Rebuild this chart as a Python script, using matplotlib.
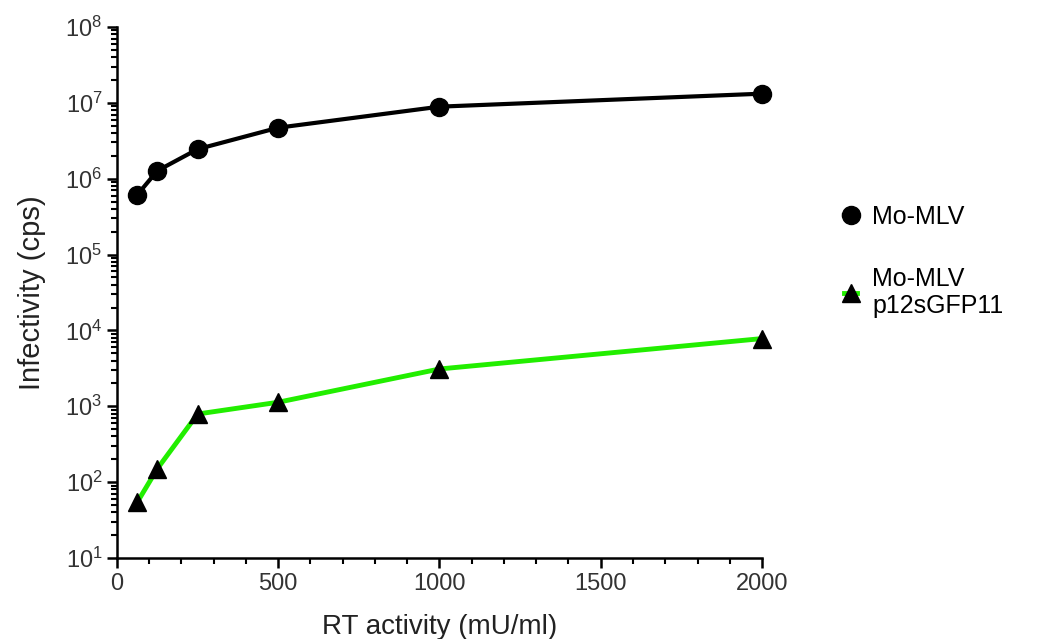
import numpy as np
import matplotlib.pyplot as plt
from matplotlib.ticker import LogLocator, MultipleLocator, NullFormatter, FuncFormatter

plt.rcParams['font.family'] = ['Liberation Sans', 'DejaVu Sans']
plt.rcParams['mathtext.fontset'] = 'custom'
plt.rcParams['mathtext.rm'] = 'Liberation Sans'
plt.rcParams['mathtext.it'] = 'Liberation Sans'

# RT activity (mU/ml)
rt = [62.5, 125, 250, 500, 1000, 2000]
wt = [6.1e5, 1.27e6, 2.45e6, 4.7e6, 8.9e6, 1.32e7]
gfp = [54, 150, 790, 1130, 3100, 7800]

fig = plt.figure(figsize=(10.39, 6.39), dpi=100)
ax = fig.add_axes([0.1126, 0.1268, 0.6208, 0.831])

ax.plot(rt, wt, color='black', lw=3, marker='o', ms=13, label='Mo-MLV', clip_on=False)
ax.plot(rt, gfp, color='#22ee00', lw=3.5, marker='^', ms=13, mfc='black', mec='black',
        label='Mo-MLV\np12sGFP11', clip_on=False)

ax.set_yscale('log')
ax.set_ylim(10, 1e8)
ax.set_xlim(0, 2000)
ax.xaxis.set_major_locator(MultipleLocator(500))
ax.xaxis.set_minor_locator(MultipleLocator(100))
ax.yaxis.set_major_locator(LogLocator(base=10, numticks=20))
ax.yaxis.set_minor_locator(LogLocator(base=10, subs=np.arange(2, 10), numticks=20))
ax.yaxis.set_minor_formatter(NullFormatter())
ax.yaxis.set_major_formatter(FuncFormatter(lambda v, p: r'$\mathregular{10^{%d}}$' % round(np.log10(v))))

for s in ['top', 'right']:
    ax.spines[s].set_visible(False)
for s in ['left', 'bottom']:
    ax.spines[s].set_linewidth(1.8)
ax.tick_params(which='major', length=7, width=1.8, labelsize=17, labelcolor='#333333')
ax.tick_params(which='minor', length=4, width=1.5)

ax.set_xlabel('RT activity (mU/ml)', fontsize=20, color='#222222', labelpad=14)
ax.set_ylabel('Infectivity (cps)', fontsize=21, color='#222222', labelpad=14)

ax.legend(loc='center left', bbox_to_anchor=(1.093, 0.558), frameon=False, fontsize=18,
          handlelength=0.5, handletextpad=0.6, labelspacing=1.5, markerscale=1.0)

fig.savefig('out.png', dpi=100)
